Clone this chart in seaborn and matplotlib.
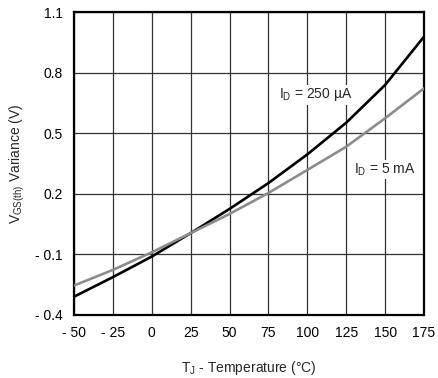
import matplotlib
matplotlib.use("Agg")
import matplotlib.pyplot as plt
import seaborn as sns
import pandas as pd

# Temperature (degC) and VGS(th) variance (V)
temps = [-50, -25, 0, 25, 50, 75, 100, 125, 150, 175]
var_250ua = [-0.31, -0.213, -0.111, 0.005, 0.125, 0.253, 0.395, 0.552, 0.739, 0.978]
var_5ma = [-0.255, -0.177, -0.09, 0.005, 0.10, 0.204, 0.318, 0.433, 0.574, 0.722]

x_ticks = [-50, -25, 0, 25, 50, 75, 100, 125, 150, 175]
x_labels = ["- 50", "- 25", "0", "25", "50", "75", "100", "125", "150", "175"]
y_ticks = [-0.4, -0.1, 0.2, 0.5, 0.8, 1.1]
y_labels = ["- 0.4", "- 0.1", "0.2", "0.5", "0.8", "1.1"]

df = pd.DataFrame({
    "temp": temps * 2,
    "var": var_250ua + var_5ma,
    "curve": ["250uA"] * len(temps) + ["5mA"] * len(temps),
})

sns.set_style("white")
plt.rcParams["font.family"] = ["Liberation Sans", "DejaVu Sans"]

fig = plt.figure(figsize=(4.38, 3.78), dpi=100)
ax = fig.add_axes([0.169, 0.167, 0.799, 0.801])

sns.lineplot(data=df, x="temp", y="var", hue="curve",
             palette={"250uA": "#000000", "5mA": "#8c8c8c"},
             linewidth=1.9, legend=False, ax=ax, zorder=3)

ax.set_xlim(-50, 175)
ax.set_ylim(-0.4, 1.1)
ax.set_xticks(x_ticks)
ax.set_xticklabels(x_labels)
ax.set_yticks(y_ticks)
ax.set_yticklabels(y_labels)
ax.tick_params(axis="both", labelsize=10, length=0, pad=8, colors="black")
ax.grid(True, color="#333333", linewidth=0.9)

for s in ax.spines.values():
    s.set_visible(True)
    s.set_color("black")
    s.set_linewidth(1.6)

ax.set_xlabel("T$_\\mathregular{J}$ - Temperature (°C)", fontsize=10, labelpad=14)
ax.set_ylabel("V$_\\mathregular{GS(th)}$ Variance (V)", fontsize=10, labelpad=6)

ax.text(82, 0.69, "I$_\\mathregular{D}$ = 250 µA", fontsize=10, va="center",
        bbox=dict(facecolor="white", edgecolor="none", pad=1), zorder=4)
ax.text(130, 0.32, "I$_\\mathregular{D}$ = 5 mA", fontsize=10, va="center",
        bbox=dict(facecolor="white", edgecolor="none", pad=1), zorder=4)

fig.savefig("out.png", dpi=100, facecolor="white")
